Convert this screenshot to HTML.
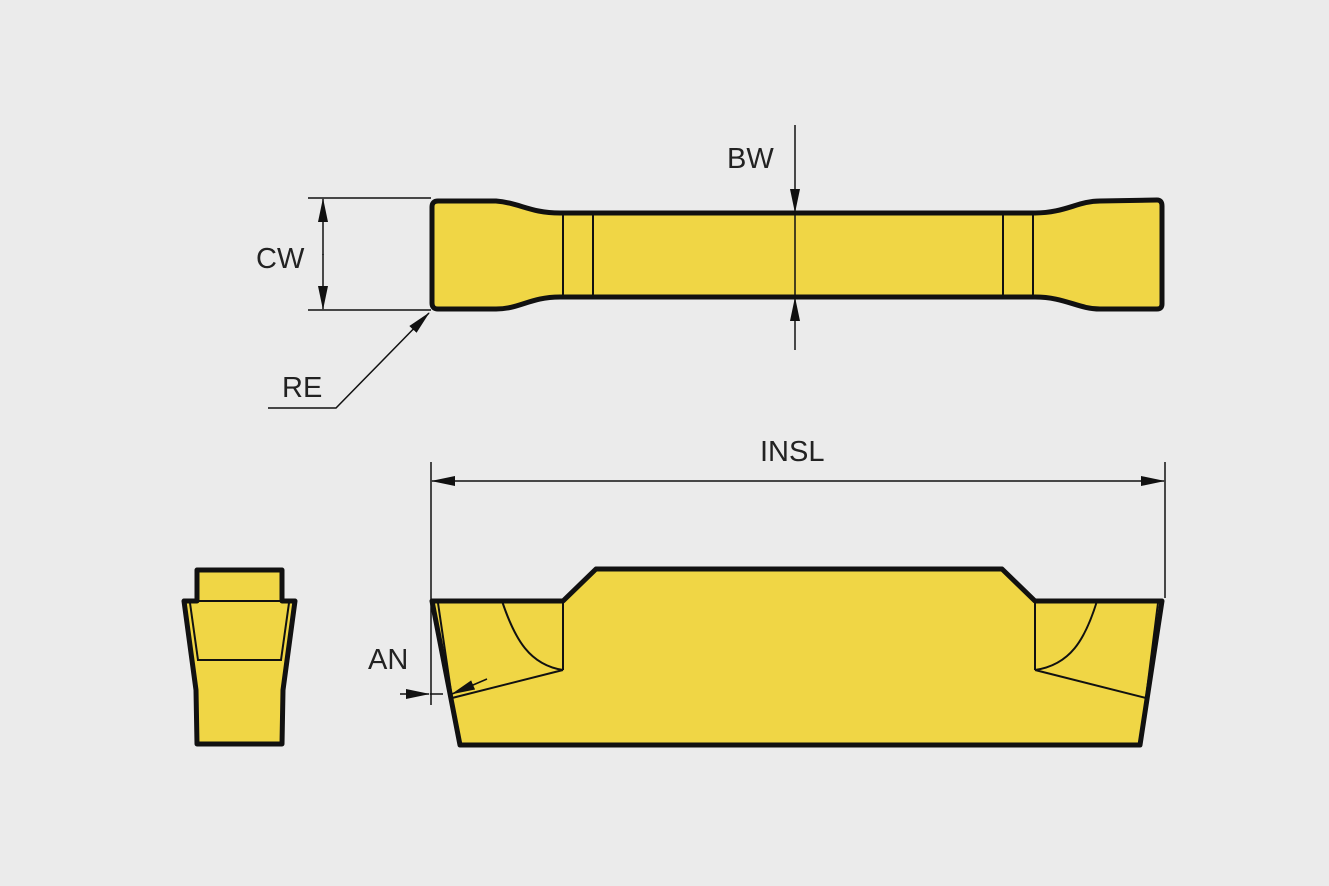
<!DOCTYPE html>
<html><head><meta charset="utf-8"><style>
html,body{margin:0;padding:0;background:#ebebeb;}
svg{display:block}
text{font-family:"Liberation Sans",sans-serif;font-size:29px;fill:#222}
</style></head><body>
<svg width="1329" height="886" viewBox="0 0 1329 886" xmlns="http://www.w3.org/2000/svg">
<defs>
<marker id="ar" markerWidth="24" markerHeight="12" refX="23" refY="6" orient="auto" markerUnits="userSpaceOnUse">
<path d="M0,1 L24,6 L0,11 z" fill="#111"/></marker>
</defs>
<rect width="1329" height="886" fill="#ebebeb"/>
<g fill="#f0d645" stroke="#111" stroke-width="5" stroke-linejoin="round">
<path d="M438,201 L496,201 C520,203 530,213 560,213 L1035,213 C1065,213 1078,201 1100,201 L1157,200 Q1162,200 1162,206 L1162,304 Q1162,309 1157,309 L1100,309 C1078,309 1065,297 1035,297 L560,297 C530,297 520,309 496,309 L438,309 Q432,309 432,303 L432,207 Q432,201 438,201 Z"/>
<path d="M432,601 L563,601 L596,569 L1002,569 L1035,601 L1162,601 L1140,745 L460,745 Z"/>
<path d="M197,570 L282,570 L282,601 L295,601 L283,690 L282,744 L197,744 L196,690 L184,601 L197,601 Z"/>
</g>
<g stroke="#111" stroke-width="2" fill="none">
<line x1="563" y1="213" x2="563" y2="297"/><line x1="593" y1="213" x2="593" y2="297"/>
<line x1="1003" y1="213" x2="1003" y2="297"/><line x1="1033" y1="213" x2="1033" y2="297"/>
<line x1="184" y1="601" x2="295" y2="601"/>
<line x1="197" y1="660" x2="282" y2="660"/>
<line x1="190" y1="603" x2="198" y2="660"/><line x1="289" y1="603" x2="281" y2="660"/>
<line x1="563" y1="601" x2="563" y2="670"/>
<path d="M502,601 C515,640 530,665 563,670"/>
<line x1="563" y1="670" x2="452" y2="698"/>
<line x1="438" y1="603" x2="452" y2="698"/>
<line x1="1035" y1="601" x2="1035" y2="670"/>
<path d="M1097,601 C1085,640 1070,665 1035,670"/>
<line x1="1035" y1="670" x2="1146" y2="698"/>
<line x1="1158" y1="603" x2="1146" y2="698"/>
</g>
<g stroke="#111" stroke-width="1.5" fill="none">
<line x1="308" y1="198" x2="431" y2="198"/><line x1="308" y1="310" x2="431" y2="310"/>
<line x1="323" y1="255" x2="323" y2="199" marker-end="url(#ar)"/>
<line x1="323" y1="254" x2="323" y2="309" marker-end="url(#ar)"/>
<line x1="795" y1="125" x2="795" y2="212" marker-end="url(#ar)"/>
<line x1="795" y1="350" x2="795" y2="298" marker-end="url(#ar)"/>
<line x1="795" y1="212" x2="795" y2="298"/>
<polyline points="268,408 336,408 429,313" marker-end="url(#ar)"/>
<line x1="431" y1="462" x2="431" y2="705"/><line x1="1165" y1="462" x2="1165" y2="598"/>
<line x1="800" y1="481" x2="432" y2="481" marker-end="url(#ar)"/>
<line x1="800" y1="481" x2="1164" y2="481" marker-end="url(#ar)"/>
<line x1="400" y1="694" x2="429" y2="694" marker-end="url(#ar)"/>
<line x1="430" y1="694" x2="443" y2="694"/>
<line x1="487" y1="679" x2="452" y2="694" marker-end="url(#ar)"/>
</g>
<text x="727" y="168">BW</text>
<text x="256" y="268">CW</text>
<text x="282" y="397">RE</text>
<text x="760" y="461">INSL</text>
<text x="368" y="669">AN</text>
</svg>
</body></html>
